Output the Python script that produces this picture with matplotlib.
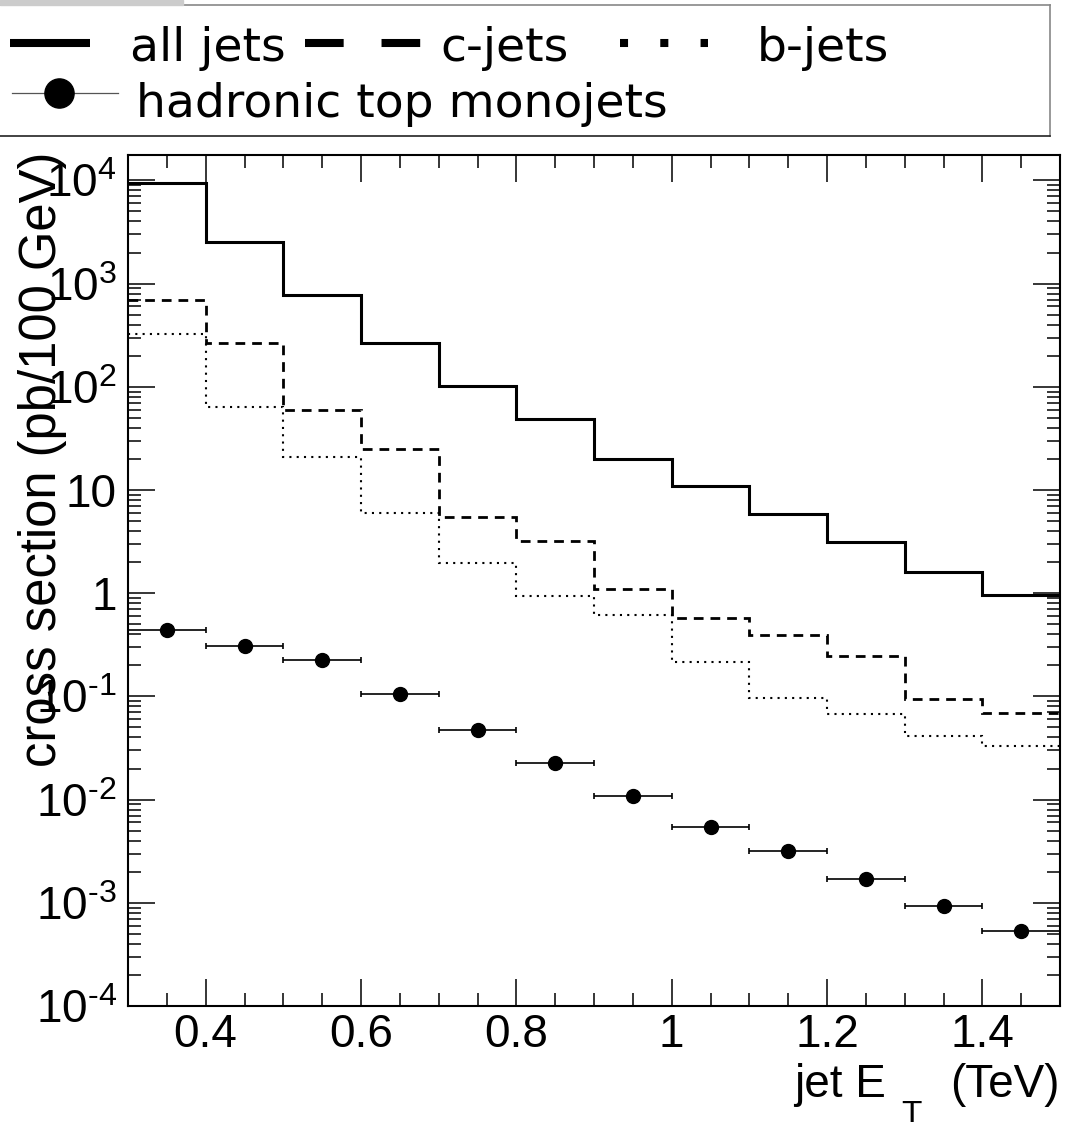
import numpy as np
import matplotlib
matplotlib.use("Agg")
import matplotlib.pyplot as plt
from matplotlib.ticker import FixedLocator, FixedFormatter, LogLocator, MultipleLocator, FuncFormatter, NullFormatter
from matplotlib.patches import Rectangle

plt.rcParams['font.family'] = ['Liberation Sans', 'DejaVu Sans']
plt.rcParams['mathtext.fontset'] = 'custom'
plt.rcParams['mathtext.rm'] = 'Liberation Sans'
plt.rcParams['mathtext.it'] = 'Liberation Sans:italic'

# jet E_T bins (TeV)
bin_edges = [0.3, 0.4, 0.5, 0.6, 0.7, 0.8, 0.9, 1.0, 1.1, 1.2, 1.3, 1.4, 1.5]
# cross sections (pb/100 GeV)
all_jets = [9400, 2550, 776, 267, 102, 48.8, 19.8, 10.9, 5.85, 3.16, 1.59, 0.97]
c_jets = [693, 264, 59.6, 24.8, 5.5, 3.23, 1.10, 0.57, 0.39, 0.246, 0.094, 0.0686]
b_jets = [326, 64, 20.9, 5.94, 1.98, 0.94, 0.615, 0.217, 0.0957, 0.067, 0.0413, 0.033]
top_et = [0.35, 0.45, 0.55, 0.65, 0.75, 0.85, 0.95, 1.05, 1.15, 1.25, 1.35, 1.45]
top_monojets = [0.44, 0.31, 0.224, 0.105, 0.047, 0.0225, 0.0109, 0.00546, 0.0032, 0.00169, 0.00093, 0.00053]
top_xerr = 0.05

y_ticks = [1e-4, 1e-3, 1e-2, 1e-1, 1, 10, 1e2, 1e3, 1e4]
y_labels = [r'$\mathregular{10^{‐4}}$', r'$\mathregular{10^{‐3}}$', r'$\mathregular{10^{‐2}}$',
            r'$\mathregular{10^{‐1}}$', '1', '10', r'$\mathregular{10^{2}}$',
            r'$\mathregular{10^{3}}$', r'$\mathregular{10^{4}}$']

W, H = 1067, 1122
fig = plt.figure(figsize=(W / 100, H / 100), dpi=100)
ax = fig.add_axes([128 / W, (H - 1006) / H, (1060 - 128) / W, (1006 - 155) / H])

ax.stairs(all_jets, bin_edges, baseline=None, color='k', lw=2.2)
ax.stairs(c_jets, bin_edges, baseline=None, color='k', lw=2.0, linestyle=(0, (3.5, 2.5)))
ax.stairs(b_jets, bin_edges, baseline=None, color='k', lw=1.5, linestyle=(0, (1, 2.5)))
ax.errorbar(top_et, top_monojets, xerr=top_xerr, fmt='o', color='k', ms=10,
            elinewidth=1.2, capsize=2.5, capthick=1.2)

ax.set_yscale('log')
ax.set_xlim(0.3, 1.5)
ax.set_ylim(1e-4, 10 ** 4.246)
ax.xaxis.set_major_locator(MultipleLocator(0.2))
ax.xaxis.set_minor_locator(MultipleLocator(0.05))
ax.xaxis.set_major_formatter(FuncFormatter(lambda v, p: '%g' % round(v, 2)))
ax.yaxis.set_major_locator(FixedLocator(y_ticks))
ax.yaxis.set_major_formatter(FixedFormatter(y_labels))
ax.yaxis.set_minor_locator(LogLocator(base=10, subs=np.arange(2, 10), numticks=20))
ax.yaxis.set_minor_formatter(NullFormatter())

ax.tick_params(which='both', direction='in', top=True, right=True, width=1.1, labelsize=33)
ax.tick_params(which='major', length=19.5)
ax.tick_params(which='minor', length=9.5)
ax.tick_params(axis='y', pad=8)
ax.tick_params(axis='x', pad=5)
for s in ax.spines.values():
    s.set_linewidth(1.5)

fig.text(56 / W, (H - 152) / H, 'cross section (pb/100 GeV)', rotation=90,
         rotation_mode='anchor', ha='right', va='baseline', fontsize=36.5)
# x title, ROOT-style subscript
fig.text(1060 / W, (H - 1097) / H, '(TeV)', ha='right', va='baseline', fontsize=33)
fig.text(901 / W, (H - 1124) / H, 'T', ha='left', va='baseline', fontsize=24)
fig.text(886 / W, (H - 1097) / H, 'jet E', ha='right', va='baseline', fontsize=33)

# legend box (pixel coordinates)
fig.patches.append(Rectangle((0, (H - 5) / H), 183 / W, 5 / H, transform=fig.transFigure,
                             color='#cccccc', zorder=0))
lg = fig.add_axes([0, (H - 136) / H, 1050 / W, 131 / H])
lg.set_xlim(0, 1050)
lg.set_ylim(136, 5)
lg.set_xticks([])
lg.set_yticks([])
lg.spines['left'].set_visible(False)
lg.spines['top'].set_color('#888888')
lg.spines['right'].set_color('#888888')
lg.spines['bottom'].set_color('#222222')
for s in lg.spines.values():
    s.set_linewidth(1.2)

lg.plot([10, 90], [43, 43], color='k', lw=5.8, solid_capstyle='butt')
lg.plot([305, 421], [43, 43], color='k', lw=5.8, linestyle=(0, (4.8, 4.7)), dash_capstyle='butt')
lg.plot([620, 708], [43, 43], color='k', lw=5.8, linestyle=(0, (1, 4)), dash_capstyle='butt')
lg.plot([12, 118], [93, 93], color='#555555', lw=0.9)
lg.plot([59], [93], 'o', color='k', ms=21)
leg_font = dict(fontsize=34, family='DejaVu Sans', va='baseline')
lg.text(130, 61, 'all jets', **leg_font)
lg.text(440, 61, 'c-jets', **leg_font)
lg.text(757, 61, 'b-jets', **leg_font)
lg.text(136, 117, 'hadronic top monojets', **leg_font)

fig.savefig('out.png', dpi=100)
